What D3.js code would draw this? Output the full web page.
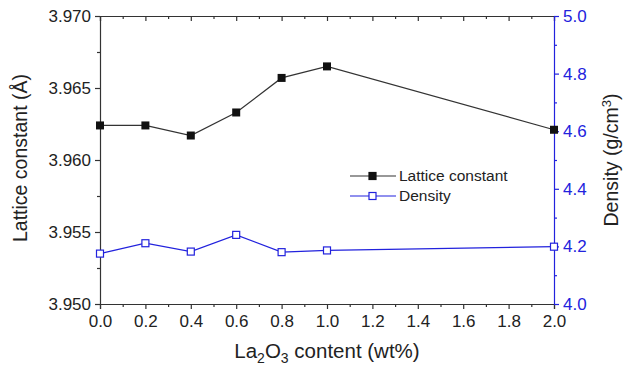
<!DOCTYPE html>
<html>
<head>
<meta charset="utf-8">
<script src="https://cdn.jsdelivr.net/npm/d3@7"></script>
<style>
  body { margin: 0; background: #fff; }
  svg text { font-family: "Liberation Sans", Arial, sans-serif; }
</style>
</head>
<body>
<div id="chart"></div>
<script>
// La2O3 content (wt%)
const contents = [0.0, 0.2, 0.4, 0.6, 0.8, 1.0, 2.0];
// lattice constant (Å)
const lattice = [3.9624, 3.9624, 3.9617, 3.9633, 3.9657, 3.9665, 3.9621];
// density (g/cm3)
const density = [4.175, 4.211, 4.182, 4.240, 4.180, 4.186, 4.199];

const xTicks = [0, 0.2, 0.4, 0.6, 0.8, 1.0, 1.2, 1.4, 1.6, 1.8, 2.0];
const yLeftTicks = [3.950, 3.955, 3.960, 3.965, 3.970];
const yRightTicks = [4.0, 4.2, 4.4, 4.6, 4.8, 5.0];

const width = 623, height = 367;
const margin = { top: 16, right: 69, bottom: 63, left: 100 };
const blue = '#2222dd';
const dark = '#333333';

const svg = d3.select('#chart').append('svg')
  .attr('width', width)
  .attr('height', height);

const w = width - margin.left - margin.right;
const h = height - margin.top - margin.bottom;
const g = svg.append('g').attr('transform', 'translate(' + margin.left + ',' + margin.top + ')');

const x = d3.scaleLinear().domain([0, 2]).range([0, w]);
const yL = d3.scaleLinear().domain([3.950, 3.970]).range([h, 0]);
const yR = d3.scaleLinear().domain([4.0, 5.0]).range([h, 0]);

/* minor ticks */
const xMinor = d3.range(0.1, 2, 0.2);
const yLMinor = [3.9525, 3.9575, 3.9625, 3.9675];
const yRMinor = [4.1, 4.3, 4.5, 4.7, 4.9];

// bottom axis
const bx = g.append('g').attr('transform', 'translate(0,' + h + ')')
  .call(d3.axisBottom(x).tickValues(xTicks).tickSize(5).tickPadding(6).tickFormat(d3.format('.1f')));
bx.append('g').call(d3.axisBottom(x).tickValues(xMinor).tickSize(3).tickFormat(''))
  .select('.domain').remove();

// top axis (ticks inward)
const tx = g.append('g')
  .call(d3.axisTop(x).tickValues(xTicks).tickSize(-5).tickFormat(''));
tx.append('g').call(d3.axisTop(x).tickValues(xMinor).tickSize(-3).tickFormat(''))
  .select('.domain').remove();

// left axis
const ly = g.append('g')
  .call(d3.axisLeft(yL).tickValues(yLeftTicks).tickSize(5).tickPadding(4).tickFormat(d3.format('.3f')));
ly.append('g').call(d3.axisLeft(yL).tickValues(yLMinor).tickSize(3).tickFormat(''))
  .select('.domain').remove();

// right axis
const ry = g.append('g').attr('transform', 'translate(' + w + ',0)')
  .call(d3.axisRight(yR).tickValues(yRightTicks).tickSize(5).tickPadding(4).tickFormat(d3.format('.1f')));
ry.append('g').call(d3.axisRight(yR).tickValues(yRMinor).tickSize(3).tickFormat(''))
  .select('.domain').remove();

[bx, tx, ly].forEach(a => {
  a.selectAll('path, line').attr('stroke', dark).attr('stroke-width', 1.2);
  a.selectAll('text').attr('font-size', 17).attr('fill', '#222');
});
ry.selectAll('path, line').attr('stroke', blue).attr('stroke-width', 1.2);
ry.selectAll('text').attr('font-size', 17).attr('fill', blue);

/* lines */
const idx = d3.range(contents.length);
g.append('path').datum(idx)
  .attr('fill', 'none').attr('stroke', dark).attr('stroke-width', 1.2)
  .attr('d', d3.line().x(i => x(contents[i])).y(i => yL(lattice[i])));
g.append('path').datum(idx)
  .attr('fill', 'none').attr('stroke', blue).attr('stroke-width', 1.2)
  .attr('d', d3.line().x(i => x(contents[i])).y(i => yR(density[i])));

/* markers */
g.selectAll('.lat').data(idx).enter().append('rect')
  .attr('x', i => x(contents[i]) - 4).attr('y', i => yL(lattice[i]) - 4)
  .attr('width', 8).attr('height', 8).attr('fill', '#111');
g.selectAll('.den').data(idx).enter().append('rect')
  .attr('x', i => x(contents[i]) - 3.5).attr('y', i => yR(density[i]) - 3.5)
  .attr('width', 7).attr('height', 7).attr('fill', '#fff')
  .attr('stroke', blue).attr('stroke-width', 1.2);

/* legend */
const lg = g.append('g').attr('transform', 'translate(250,160)');
const legends = [
  { label: 'Lattice constant', color: dark, filled: true },
  { label: 'Density', color: blue, filled: false }
];
legends.forEach((d, i) => {
  const row = lg.append('g').attr('transform', 'translate(0,' + (i * 20) + ')');
  row.append('line').attr('x1', 0).attr('x2', 46).attr('y1', 0).attr('y2', 0)
    .attr('stroke', d.color).attr('stroke-width', 1.2);
  row.append('rect').attr('x', 19).attr('y', -3.5).attr('width', 7).attr('height', 7)
    .attr('fill', d.filled ? '#111' : '#fff').attr('stroke', d.filled ? '#111' : d.color).attr('stroke-width', 1.2);
  row.append('text').attr('x', 49).attr('y', 5).attr('font-size', 15.5).attr('fill', '#222').text(d.label);
});

/* axis titles */
const xt = svg.append('text').attr('x', margin.left + w / 2).attr('y', 358)
  .attr('text-anchor', 'middle').attr('font-size', 20.5).attr('fill', '#222');
xt.append('tspan').text('La');
xt.append('tspan').attr('font-size', 14).attr('dy', 5).text('2');
xt.append('tspan').attr('dy', -5).text('O');
xt.append('tspan').attr('font-size', 14).attr('dy', 5).text('3');
xt.append('tspan').attr('dy', -5).text(' content (wt%)');

svg.append('text')
  .attr('transform', 'translate(27,' + (margin.top + h / 2 - 2) + ') rotate(-90)')
  .attr('text-anchor', 'middle').attr('font-size', 19.5).attr('fill', '#222')
  .text('Lattice constant (Å)');

const rt = svg.append('text')
  .attr('transform', 'translate(618,' + (margin.top + h / 2) + ') rotate(-90)')
  .attr('text-anchor', 'middle').attr('font-size', 19.5).attr('fill', '#222');
rt.append('tspan').text('Density (g/cm');
rt.append('tspan').attr('font-size', 13).attr('dy', -7).text('3');
rt.append('tspan').attr('dy', 7).text(')');
</script>
</body>
</html>
